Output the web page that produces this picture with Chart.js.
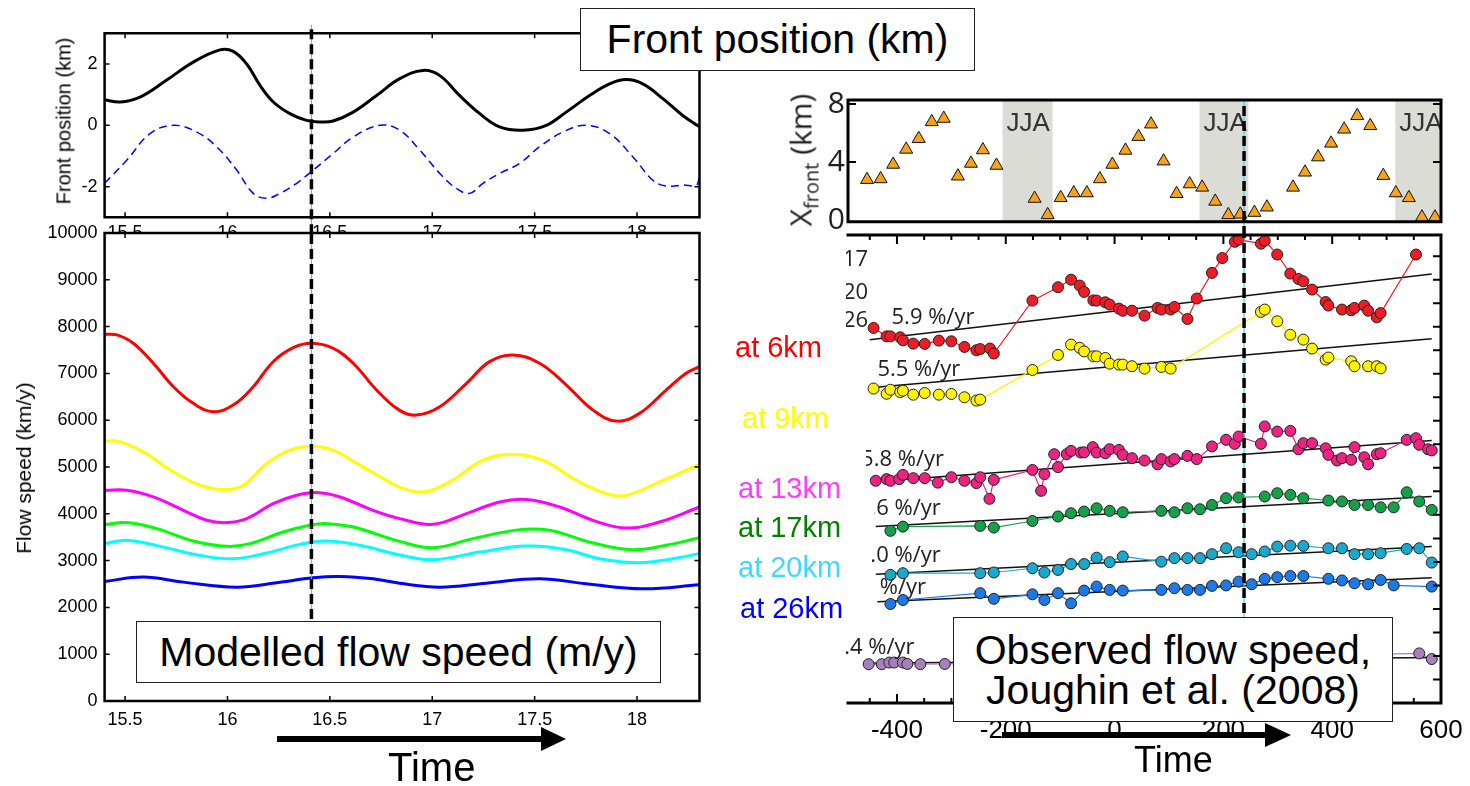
<!DOCTYPE html>
<html>
<head>
<meta charset="utf-8">
<script src="https://cdn.jsdelivr.net/npm/chart.js@4.4.1/dist/chart.umd.min.js"></script>
<style>
  html, body { margin: 0; padding: 0; background: #fff; }
  #fig { position: relative; width: 1470px; height: 786px; overflow: hidden; font-family: 'Liberation Sans', Arial, sans-serif; color: #000; }
  #fig canvas { position: absolute; }
  .box { position: absolute; background: #fff; border: 1.5px solid #222; box-sizing: border-box; display: flex; align-items: center; justify-content: center; text-align: center; font-size: 41px; z-index: 5; }
  .lbl { position: absolute; white-space: nowrap; z-index: 4; }
  .rot { position: absolute; white-space: nowrap; transform: translate(-50%, -50%) rotate(-90deg); z-index: 4; }
  .clip { position: absolute; overflow: hidden; z-index: 4; }
  .clip span { position: absolute; font-family: 'Open Sans', sans-serif; font-size: 22px; color: #222; line-height: 30px; }
</style>
</head>
<body>
<div id="fig">
  <canvas id="cA" width="720" height="250" style="left:0;top:0"></canvas>
  <canvas id="cB" width="720" height="564" style="left:0;top:222px"></canvas>
  <canvas id="cC" width="730" height="160" style="left:740px;top:80px"></canvas>
  <canvas id="cD" width="730" height="561" style="left:740px;top:225px"></canvas>

  <div class="box" style="left:580px;top:8px;width:395px;height:63px;">Front position (km)</div>
  <div class="box" style="left:136px;top:621px;width:525px;height:62px;">Modelled flow speed (m/y)</div>
  <div class="box" style="left:953px;top:617px;width:440px;height:105px;line-height:40px;">Observed flow speed,<br>Joughin et al. (2008)</div>

  <div class="rot" style="left:64px;top:121px;font-size:20px;">Front position (km)</div>
  <div class="rot" style="left:24px;top:468px;font-size:21px;">Flow speed (km/y)</div>
  <div class="rot" style="left:802px;top:160px;font-size:30px;font-family:'Open Sans',sans-serif;color:#222;">X<sub style="font-size:20px;">front</sub> (km)</div>

  <div class="lbl" style="left:735px;top:330px;font-size:29px;line-height:34px;color:#ff0000;">at 6km</div>
  <div class="lbl" style="left:742px;top:401px;font-size:29px;line-height:34px;color:#ffff00;">at 9km</div>
  <div class="lbl" style="left:738px;top:471px;font-size:29px;line-height:34px;color:#ff40ff;">at 13km</div>
  <div class="lbl" style="left:738px;top:510px;font-size:29px;line-height:34px;color:#008000;">at 17km</div>
  <div class="lbl" style="left:738px;top:550px;font-size:29px;line-height:34px;color:#40d8ff;">at 20km</div>
  <div class="lbl" style="left:740px;top:591px;font-size:29px;line-height:34px;color:#0000ff;">at 26km</div>

  <div class="clip" style="left:846px;top:240px;width:26px;height:95px;">
    <span style="left:-3px;top:2px;">17</span>
    <span style="left:-3px;top:35px;">20</span>
    <span style="left:-3px;top:63px;">26</span>
  </div>

  <svg width="1470" height="786" style="position:absolute;left:0;top:0;z-index:6;pointer-events:none">
    <line x1="277" y1="739" x2="543" y2="739" stroke="#000" stroke-width="6"/>
    <polygon points="541,727 566,739 541,751" fill="#000"/>
    <line x1="1002" y1="735" x2="1267" y2="735" stroke="#000" stroke-width="6"/>
    <polygon points="1265,723 1291,735 1265,747" fill="#000"/>
  </svg>
  <div class="lbl" style="left:388px;top:747px;font-size:40px;line-height:40px;">Time</div>
  <div class="lbl" style="left:1134px;top:742px;font-size:36px;line-height:36px;">Time</div>
</div>

<script>
// modelled run: time in model years
const tMarkModel = 16.41;
const modelTicksX = [15.5, 16, 16.5, 17, 17.5, 18];
const frontTicksY = [-2, 0, 2];
const speedTicksY = [0, 1000, 2000, 3000, 4000, 5000, 6000, 7000, 8000, 9000, 10000];

// front position (km): modelled (solid) and forcing (dashed)
const frontModel = [[15.40, 0.83], [15.476, 0.76], [15.573, 0.92], [15.70, 1.46], [15.833, 2.06], [15.963, 2.46],
  [16.028, 2.41], [16.094, 2.0], [16.159, 1.3], [16.224, 0.76], [16.305, 0.38], [16.386, 0.16], [16.451, 0.11],
  [16.516, 0.14], [16.614, 0.43], [16.728, 0.97], [16.841, 1.52], [16.955, 1.79], [17.037, 1.62], [17.134, 0.97],
  [17.232, 0.38], [17.329, -0.05], [17.443, -0.16], [17.557, 0.0], [17.654, 0.43], [17.768, 0.97], [17.866, 1.35],
  [17.947, 1.49], [18.028, 1.35], [18.126, 0.87], [18.223, 0.32], [18.305, -0.05]];
const frontForcing = [[15.40, -1.89], [15.508, -1.14], [15.622, -0.27], [15.736, 0], [15.85, -0.22], [15.947, -0.7],
  [16.045, -1.46], [16.126, -2.22], [16.191, -2.38], [16.256, -2.22], [16.338, -1.89], [16.419, -1.46], [16.516, -0.92],
  [16.614, -0.38], [16.744, 0], [16.841, -0.16], [16.939, -0.81], [17.037, -1.57], [17.118, -2.06], [17.183, -2.22],
  [17.248, -1.89], [17.329, -1.57], [17.427, -1.24], [17.524, -0.7], [17.638, -0.22], [17.752, 0], [17.866, -0.27],
  [17.98, -1.03], [18.077, -1.79], [18.142, -1.98], [18.223, -1.95], [18.289, -1.95], [18.305, -1.68]];

// modelled flow speed at six distances from the front
const model6 = [[15.40, 7837], [15.46, 7822], [15.54, 7645], [15.638, 7216], [15.736, 6715], [15.833, 6360],
  [15.931, 6180], [16.028, 6323], [16.126, 6715], [16.223, 7250], [16.321, 7550], [16.411, 7645], [16.516, 7537],
  [16.614, 7216], [16.728, 6645], [16.841, 6210], [16.923, 6109], [17.037, 6287], [17.167, 6788], [17.28, 7251],
  [17.394, 7394], [17.524, 7216], [17.655, 6752], [17.785, 6216], [17.899, 5981], [18.012, 6146], [18.142, 6645],
  [18.24, 7002], [18.305, 7143]];
const model9 = [[15.40, 5559], [15.476, 5538], [15.589, 5324], [15.736, 4895], [15.866, 4610], [15.98, 4518],
  [16.077, 4610], [16.191, 5075], [16.305, 5360], [16.411, 5445], [16.516, 5360], [16.646, 5039], [16.777, 4717],
  [16.841, 4570], [16.955, 4467], [17.085, 4681], [17.248, 5146], [17.394, 5268], [17.54, 5146], [17.703, 4717],
  [17.85, 4433], [17.947, 4396], [18.11, 4681], [18.305, 5054]];
const model13 = [[15.40, 4503], [15.508, 4503], [15.638, 4360], [15.785, 4075], [15.899, 3861], [15.996, 3812],
  [16.094, 3897], [16.223, 4218], [16.338, 4396], [16.435, 4454], [16.549, 4360], [16.711, 4075], [16.841, 3897],
  [17.004, 3775], [17.167, 4004], [17.329, 4253], [17.459, 4304], [17.622, 4146], [17.785, 3861], [17.947, 3696],
  [18.11, 3825], [18.305, 4146]];
const model17 = [[15.40, 3769], [15.508, 3812], [15.655, 3683], [15.833, 3418], [15.996, 3304], [16.11, 3362],
  [16.272, 3610], [16.402, 3754], [16.484, 3790], [16.614, 3717], [16.841, 3410], [17.004, 3276], [17.199, 3469],
  [17.427, 3662], [17.573, 3647], [17.785, 3375], [17.98, 3233], [18.142, 3326], [18.305, 3490]];
const model20 = [[15.40, 3362], [15.508, 3433], [15.671, 3304], [15.866, 3111], [16.028, 3041], [16.191, 3161],
  [16.354, 3347], [16.484, 3418], [16.646, 3326], [16.841, 3120], [17.004, 3019], [17.232, 3182], [17.459, 3310],
  [17.655, 3233], [17.817, 3041], [18.012, 2955], [18.175, 3041], [18.305, 3148]];
const model26 = [[15.40, 2555], [15.589, 2647], [15.785, 2540], [16.045, 2433], [16.24, 2527], [16.419, 2634],
  [16.549, 2662], [16.711, 2612], [16.841, 2515], [17.037, 2433], [17.264, 2518], [17.524, 2612], [17.752, 2505],
  [18.028, 2398], [18.305, 2484]];

// observations: time in days
const tMarkObs = 238;
const dayTicks = [-400, -200, 0, 200, 400, 600];
const xfrontTicks = [0, 2, 4, 6, 8];
const xfrontLabels = [0, 4, 8];
const jjaStart = [-206, 156, 516];
const jjaEnd = [-114, 246, 608];

// observed front position (km)
const xfront = [[-455, 2.78], [-430, 2.83], [-407, 3.83], [-383, 4.87], [-360, 5.61], [-336, 6.77], [-314, 7.0], [-288, 3.02],
  [-264, 3.9], [-242, 4.83], [-217, 3.76], [-147, 1.48], [-123, 0.35], [-99, 1.53], [-75, 1.86], [-51, 1.86], [-27, 2.83],
  [-4, 3.83], [20, 4.8], [44, 5.75], [67, 6.61], [90, 4.06], [114, 1.81], [138, 2.48], [161, 2.25], [185, 1.28], [209, 0.35],
  [231, 0.39], [257, 0.51], [280, 0.88], [328, 2.25], [350, 3.29], [374, 4.34], [398, 5.29], [422, 6.26], [446, 7.19],
  [470, 6.5], [494, 3.06], [517, 1.86], [541, 1.53], [565, 0.19], [589, 0.19]];

// observed speed, stacked with offsets (one unit per tick)
const obs6 = [[-443, 15.95], [-419, 15.59], [-412, 15.59], [-394, 15.55], [-389, 15.42], [-370, 15.28], [-349, 15.27],
  [-323, 15.41], [-300, 15.38], [-276, 15.14], [-254, 15.0], [-247, 15.05], [-229, 15.07], [-222, 14.86], [-151, 17.11],
  [-104, 17.68], [-80, 18.0], [-64, 17.75], [-56, 17.48], [-39, 17.12], [-33, 17.11], [-17, 17.04], [-9, 16.94], [8, 16.77],
  [15, 16.68], [32, 16.68], [55, 16.47], [79, 16.8], [86, 16.73], [103, 16.73], [110, 16.84], [134, 16.33], [151, 17.2],
  [179, 18.29], [198, 18.92], [221, 19.61], [228, 19.7], [269, 19.53], [276, 19.66], [299, 19.07], [323, 18.26], [338, 18.03],
  [347, 17.93], [363, 17.58], [388, 17.05], [393, 16.9], [418, 16.73], [435, 16.7], [441, 16.8], [459, 16.9], [466, 16.68],
  [482, 16.4], [489, 16.58], [554, 19.07]];
const obs9 = [[-443, 13.37], [-419, 13.15], [-412, 13.32], [-394, 13.22], [-389, 13.28], [-370, 13.11], [-349, 13.18],
  [-323, 13.11], [-300, 13.14], [-276, 13.0], [-254, 12.86], [-247, 12.9], [-151, 14.16], [-104, 14.8], [-80, 15.24],
  [-64, 15.1], [-56, 14.95], [-39, 14.74], [-33, 14.74], [-17, 14.67], [-9, 14.43], [8, 14.39], [15, 14.39], [32, 14.32],
  [55, 14.22], [86, 14.29], [103, 14.22], [269, 16.63], [276, 16.73], [299, 16.23], [323, 15.66], [347, 15.45], [363, 15.07],
  [388, 14.6], [393, 14.69], [435, 14.53], [441, 14.32], [466, 14.32], [482, 14.32], [489, 14.23]];
const obs13 = [[-439, 9.45], [-419, 9.52], [-412, 9.45], [-396, 9.52], [-389, 9.7], [-370, 9.56], [-349, 9.56], [-325, 9.37],
  [-300, 9.6], [-276, 9.45], [-254, 9.35], [-247, 9.6], [-230, 8.68], [-222, 9.49], [-151, 9.91], [-135, 9.02], [-129, 9.73],
  [-111, 10.58], [-104, 10.03], [-88, 10.58], [-80, 10.72], [-62, 10.65], [-56, 10.66], [-40, 10.88], [-33, 10.65],
  [-17, 10.62], [-9, 10.79], [8, 10.76], [15, 10.55], [32, 10.41], [55, 10.31], [79, 10.15], [86, 10.37], [103, 10.27],
  [110, 10.37], [134, 10.51], [151, 10.37], [179, 10.91], [205, 11.19], [221, 11.02], [228, 11.33], [269, 11.02],
  [276, 11.76], [299, 11.54], [323, 11.57], [338, 10.79], [347, 11.05], [363, 11.05], [388, 10.83], [393, 10.55],
  [409, 10.31], [418, 10.41], [435, 10.34], [441, 10.88], [459, 10.45], [466, 10.15], [482, 10.58], [489, 10.62],
  [537, 11.19], [554, 11.26], [560, 10.98], [576, 10.79], [583, 10.74]];
const obs17 = [[-412, 7.32], [-389, 7.5], [-247, 7.53], [-222, 7.46], [-151, 7.74], [-104, 7.93], [-80, 8.07], [-56, 8.14],
  [-33, 8.28], [-9, 8.17], [15, 8.11], [86, 8.17], [110, 8.11], [134, 8.28], [157, 8.24], [179, 8.42], [205, 8.71],
  [228, 8.74], [276, 8.78], [299, 8.92], [323, 8.85], [347, 8.71], [393, 8.61], [418, 8.57], [441, 8.42], [466, 8.42],
  [489, 8.32], [513, 8.32], [537, 8.96], [560, 8.57], [583, 8.21]];
const obs20 = [[-412, 5.45], [-389, 5.52], [-247, 5.52], [-222, 5.55], [-151, 5.73], [-129, 5.55], [-104, 5.66], [-80, 5.91],
  [-56, 5.91], [-33, 6.18], [-9, 5.99], [15, 6.23], [86, 6.01], [110, 6.16], [134, 6.16], [157, 6.16], [179, 6.33],
  [205, 6.58], [228, 6.41], [252, 6.33], [276, 6.44], [299, 6.65], [323, 6.69], [347, 6.68], [393, 6.58], [418, 6.58],
  [441, 6.33], [466, 6.33], [489, 6.37], [537, 6.55], [560, 6.58], [583, 5.97]];
const obs26 = [[-412, 4.21], [-389, 4.38], [-247, 4.67], [-222, 4.43], [-151, 4.62], [-129, 4.38], [-104, 4.67], [-80, 4.24],
  [-56, 4.78], [-33, 4.95], [-9, 4.81], [15, 4.78], [86, 4.81], [110, 4.88], [134, 4.81], [157, 4.81], [179, 4.98],
  [205, 5.0], [228, 5.16], [252, 5.05], [276, 5.28], [299, 5.35], [323, 5.4], [347, 5.4], [393, 5.28], [418, 5.21],
  [441, 5.09], [466, 5.05], [489, 5.23], [513, 5.0], [583, 4.95]];
const obsFar = [[-452, 1.65], [-428, 1.65], [-414, 1.72], [-405, 1.72], [-389, 1.72], [-381, 1.66], [-357, 1.65],
  [-312, 1.66], [560, 2.11], [583, 1.87]];

// linear trends, end points
const trend6 = [[-450, 15.45], [583, 18.24]];
const trend9 = [[-450, 13.4], [583, 15.49]];
const trend13 = [[-439, 9.42], [583, 11.16]];
const trend17 = [[-439, 7.5], [583, 8.78]];
const trend20 = [[-439, 5.47], [583, 6.65]];
const trend26 = [[-436, 4.31], [583, 5.33]];
const trendFar = [[-452, 1.69], [583, 1.94]];
const rateText = ['5.9 %/yr', '5.5 %/yr', '5.8 %/yr', '4.6 %/yr', '5.0 %/yr', '4.2 %/yr', '3.4 %/yr'];
const ratePos = [[-410, 16.38], [-436, 14.17], [-466, 10.34], [-472, 8.28], [-472, 6.26], [-499, 4.88], [-520, 2.33]];
const rateClip = [-490, -490, -457, -442, -446, -435, -497];

Chart.defaults.font.family = "'Liberation Sans', Arial, sans-serif";
Chart.defaults.color = '#000';

const pts = a => a.map(([x, y]) => ({ x, y }));
const fixW = w => s => { s.width = w; s.paddingTop = s.paddingBottom = s.paddingLeft = s.paddingRight = 0; };
const fixH = h => s => { s.height = h; s.paddingTop = s.paddingBottom = s.paddingLeft = s.paddingRight = 0; };
const useTicks = vals => s => { s.ticks = vals.map(v => ({ value: v })); };
const noGrid = { display: false, drawTicks: false };
const vline = (x, lo, hi, color, width, dash, order) => ({
  data: [{ x, y: lo }, { x, y: hi }], borderColor: color, borderWidth: width, borderDash: dash,
  pointRadius: 0, clip: false, order
});
const curve = (data, color, width, order, dash) => ({
  data: pts(data), borderColor: color, borderWidth: width, borderDash: dash || [],
  pointRadius: 0, tension: 0.4, order
});
const series = (data, color, order) => ({
  data: pts(data), borderColor: color, borderWidth: 1.2, pointRadius: 5.5,
  pointBackgroundColor: color, pointBorderColor: '#222', pointBorderWidth: 1, order
});
const trend = (data) => ({ data: pts(data), borderColor: '#111', borderWidth: 1.5, pointRadius: 0, order: 20 });

// box around the plot area plus inward tick marks
const framePlugin = {
  id: 'frame',
  beforeDraw(chart, args, o) {
    if (!o.fill) return;
    const a = chart.chartArea, c = chart.ctx;
    c.save();
    c.fillStyle = o.fill;
    c.fillRect(a.left, a.top, a.right - a.left, a.bottom - a.top);
    c.restore();
  },
  afterDraw(chart, args, o) {
    const a = chart.chartArea, c = chart.ctx;
    c.save();
    c.strokeStyle = '#000';
    c.lineCap = 'square';
    c.lineWidth = o.width;
    c.beginPath();
    if (o.sides.includes('top')) { c.moveTo(a.left, a.top); c.lineTo(a.right, a.top); }
    if (o.sides.includes('bottom')) { c.moveTo(a.left, a.bottom); c.lineTo(a.right, a.bottom); }
    if (o.sides.includes('left')) { c.moveTo(a.left, a.top); c.lineTo(a.left, a.bottom); }
    if (o.sides.includes('right')) { c.moveTo(a.right, a.top); c.lineTo(a.right, a.bottom); }
    c.stroke();
    c.lineCap = 'butt';
    c.lineWidth = o.tickWidth;
    c.beginPath();
    const xs = chart.scales.x, ys = chart.scales.y;
    xs.ticks.forEach(t => {
      const p = xs.getPixelForValue(t.value);
      if (p < a.left + 2 || p > a.right - 2) return;
      const len = o.xMajor && t.value % o.xMajor === 0 ? o.xMajorLen : o.xLen;
      if (o.xSides.includes('top')) { c.moveTo(p, a.top); c.lineTo(p, a.top + len); }
      if (o.xSides.includes('bottom')) { c.moveTo(p, a.bottom); c.lineTo(p, a.bottom - len); }
    });
    ys.ticks.forEach(t => {
      const p = ys.getPixelForValue(t.value);
      if (p < a.top + 2 || p > a.bottom - 2) return;
      if (o.ySides.includes('left')) { c.moveTo(a.left, p); c.lineTo(a.left + o.yLen, p); }
      if (o.ySides.includes('right')) { c.moveTo(a.right, p); c.lineTo(a.right - o.yLen, p); }
    });
    c.stroke();
    c.restore();
  }
};

// shaded summer (JJA) spans
const seasonPlugin = {
  id: 'seasons',
  beforeDatasetsDraw(chart, args, o) {
    const a = chart.chartArea, c = chart.ctx, xs = chart.scales.x;
    c.save();
    c.beginPath();
    c.rect(a.left, a.top, a.right - a.left, a.bottom - a.top);
    c.clip();
    o.starts.forEach((s, i) => {
      const x0 = xs.getPixelForValue(s), x1 = xs.getPixelForValue(o.ends[i]);
      c.fillStyle = o.color;
      c.fillRect(x0, a.top, x1 - x0, a.bottom - a.top);
      c.fillStyle = o.textColor;
      c.font = o.font;
      c.textBaseline = 'alphabetic';
      c.fillText(o.label, x0 + 4, a.top + 31);
    });
    c.restore();
  }
};

// growth-rate text next to each trend line
const ratePlugin = {
  id: 'rates',
  afterDatasetsDraw(chart, args, o) {
    const a = chart.chartArea, c = chart.ctx, xs = chart.scales.x, ys = chart.scales.y;
    o.text.forEach((t, i) => {
      const cx = xs.getPixelForValue(o.clip[i]);
      c.save();
      c.beginPath();
      c.rect(cx, a.top, chart.width - cx, a.bottom - a.top);
      c.clip();
      c.font = o.font;
      c.fillStyle = o.color;
      c.textBaseline = 'middle';
      c.fillText(t, xs.getPixelForValue(o.at[i][0]), ys.getPixelForValue(o.at[i][1]));
      c.restore();
    });
  }
};

const noLegend = { legend: { display: false }, tooltip: { enabled: false } };

// top left: front position
new Chart(document.getElementById('cA'), {
  type: 'line',
  data: { datasets: [
    vline(tMarkModel, -3.55, 3.27, '#000', 3.5, [10, 5], 0),
    vline(tMarkModel, -3.55, 3.27, '#29c5f6', 1, [], 1),
    curve(frontModel, '#000', 3, 2),
    curve(frontForcing, '#0000ff', 1.5, 3, [8, 5])
  ] },
  options: {
    responsive: false, animation: false,
    layout: { padding: { top: 33.3, right: 20.5, left: 0, bottom: 0 } },
    plugins: { ...noLegend,
      frame: { width: 2.5, tickWidth: 1.5, sides: ['top', 'bottom', 'left', 'right'],
        xSides: ['top', 'bottom'], xLen: 5, ySides: ['left', 'right'], yLen: 5 } },
    scales: {
      x: { type: 'linear', min: 15.40, max: 18.305, grid: noGrid, border: { display: false },
        afterBuildTicks: useTicks(modelTicksX), afterFit: fixH(32.7),
        ticks: { autoSkip: false, maxRotation: 0, padding: 5, font: { size: 18 }, callback: v => String(v) } },
      y: { min: -3, max: 3, grid: noGrid, border: { display: false },
        afterBuildTicks: useTicks(frontTicksY), afterFit: fixW(104.6),
        ticks: { padding: 7, font: { size: 18 }, callback: v => String(v) } }
    }
  },
  plugins: [framePlugin]
});

// bottom left: modelled flow speed
new Chart(document.getElementById('cB'), {
  type: 'line',
  data: { datasets: [
    vline(tMarkModel, 1750, 10000, '#000', 3.5, [10, 5], 0),
    vline(tMarkModel, 1750, 10000, '#29c5f6', 1, [], 1),
    curve(model6, '#ff0000', 3, 2),
    curve(model9, '#ffff00', 3, 3),
    curve(model13, '#ff00ff', 3, 4),
    curve(model17, '#00ff00', 3, 5),
    curve(model20, '#00ffff', 3, 6),
    curve(model26, '#0000ff', 3, 7)
  ] },
  options: {
    responsive: false, animation: false,
    layout: { padding: { top: 11, right: 20.5, left: 0, bottom: 0 } },
    plugins: { ...noLegend,
      frame: { fill: '#fff', width: 2.5, tickWidth: 1.5, sides: ['top', 'bottom', 'left', 'right'],
        xSides: ['top', 'bottom'], xLen: 5, ySides: ['left', 'right'], yLen: 5 } },
    scales: {
      x: { type: 'linear', min: 15.40, max: 18.305, grid: noGrid, border: { display: false },
        afterBuildTicks: useTicks(modelTicksX), afterFit: fixH(85),
        ticks: { autoSkip: false, maxRotation: 0, padding: 8, font: { size: 18 }, callback: v => String(v) } },
      y: { min: 0, max: 10000, grid: noGrid, border: { display: false },
        afterBuildTicks: useTicks(speedTicksY), afterFit: fixW(104.6),
        ticks: { padding: 7, font: { size: 18 }, callback: v => String(v) } }
    }
  },
  plugins: [framePlugin]
});

// top right: observed front position
new Chart(document.getElementById('cC'), {
  type: 'line',
  data: { datasets: [
    vline(tMarkObs, -1.1, 8.28, '#000', 3.5, [10, 5], 0),
    vline(tMarkObs, -1.1, 8.28, '#29c5f6', 1, [], 1),
    { data: pts(xfront), showLine: false, pointStyle: 'triangle', pointRadius: 7.5,
      pointBackgroundColor: '#f7a21b', pointBorderColor: '#111', pointBorderWidth: 1, clip: 0, order: 2 }
  ] },
  options: {
    responsive: false, animation: false,
    layout: { padding: { top: 20, right: 29, left: 0, bottom: 0 } },
    plugins: { ...noLegend,
      seasons: { starts: jjaStart, ends: jjaEnd, color: '#dcdcd6', textColor: '#333', label: 'JJA',
        font: "26px 'Liberation Sans', Arial, sans-serif" },
      frame: { width: 3, tickWidth: 2, sides: ['top', 'bottom', 'left', 'right'],
        xSides: [], xLen: 0, ySides: ['left', 'right'], yLen: 8 } },
    scales: {
      x: { type: 'linear', min: -490, max: 600, grid: noGrid, border: { display: false },
        afterFit: fixH(18.3), ticks: { display: false } },
      y: { min: -0.12, max: 8.28, grid: noGrid, border: { display: false },
        afterBuildTicks: useTicks(xfrontTicks), afterFit: fixW(108),
        ticks: { padding: 3, color: '#222', font: { family: "'Open Sans', sans-serif", size: 30 },
          callback: v => xfrontLabels.includes(v) ? String(v) : '' } }
    }
  },
  plugins: [seasonPlugin, framePlugin]
});

// bottom right: observed flow speed with trends
const minorDays = [];
for (let d = -450; d <= 600; d += 50) minorDays.push(d);
const unitTicks = [];
for (let u = 0; u <= 19; u++) unitTicks.push(u);

new Chart(document.getElementById('cD'), {
  type: 'line',
  data: { datasets: [
    vline(tMarkObs, 0, 19.9, '#000', 3.5, [10, 5], 0),
    vline(tMarkObs, 0, 19.9, '#29c5f6', 1, [], 1),
    series(obs6, '#ee1c24', 2),
    series(obs9, '#fff200', 3),
    series(obs13, '#ec2380', 4),
    series(obs17, '#16a04a', 5),
    series(obs20, '#1ba8cc', 6),
    series(obs26, '#1e78e6', 7),
    series(obsFar, '#a67fbd', 8),
    trend(trend6), trend(trend9), trend(trend13), trend(trend17), trend(trend20), trend(trend26), trend(trendFar)
  ] },
  options: {
    responsive: false, animation: false,
    layout: { padding: { top: 10, right: 29, left: 0, bottom: 0 } },
    plugins: { ...noLegend,
      rates: { text: rateText, at: ratePos, clip: rateClip, color: '#222', font: "22px 'Open Sans', sans-serif" },
      frame: { width: 3, tickWidth: 2, sides: ['top', 'bottom', 'right'],
        xSides: ['top', 'bottom'], xLen: 5, xMajor: 200, xMajorLen: 9, ySides: ['right'], yLen: 8 } },
    scales: {
      x: { type: 'linear', min: -490, max: 600, grid: noGrid, border: { display: false },
        afterBuildTicks: useTicks(minorDays), afterFit: fixH(83),
        ticks: { autoSkip: false, maxRotation: 0, padding: 12, font: { size: 26 },
          callback: v => dayTicks.includes(v) ? String(v) : '' } },
      y: { min: 0, max: 19.9, grid: noGrid, border: { display: false },
        afterBuildTicks: useTicks(unitTicks), afterFit: fixW(108),
        ticks: { display: false } }
    }
  },
  plugins: [ratePlugin, framePlugin]
});
</script>
</body>
</html>
